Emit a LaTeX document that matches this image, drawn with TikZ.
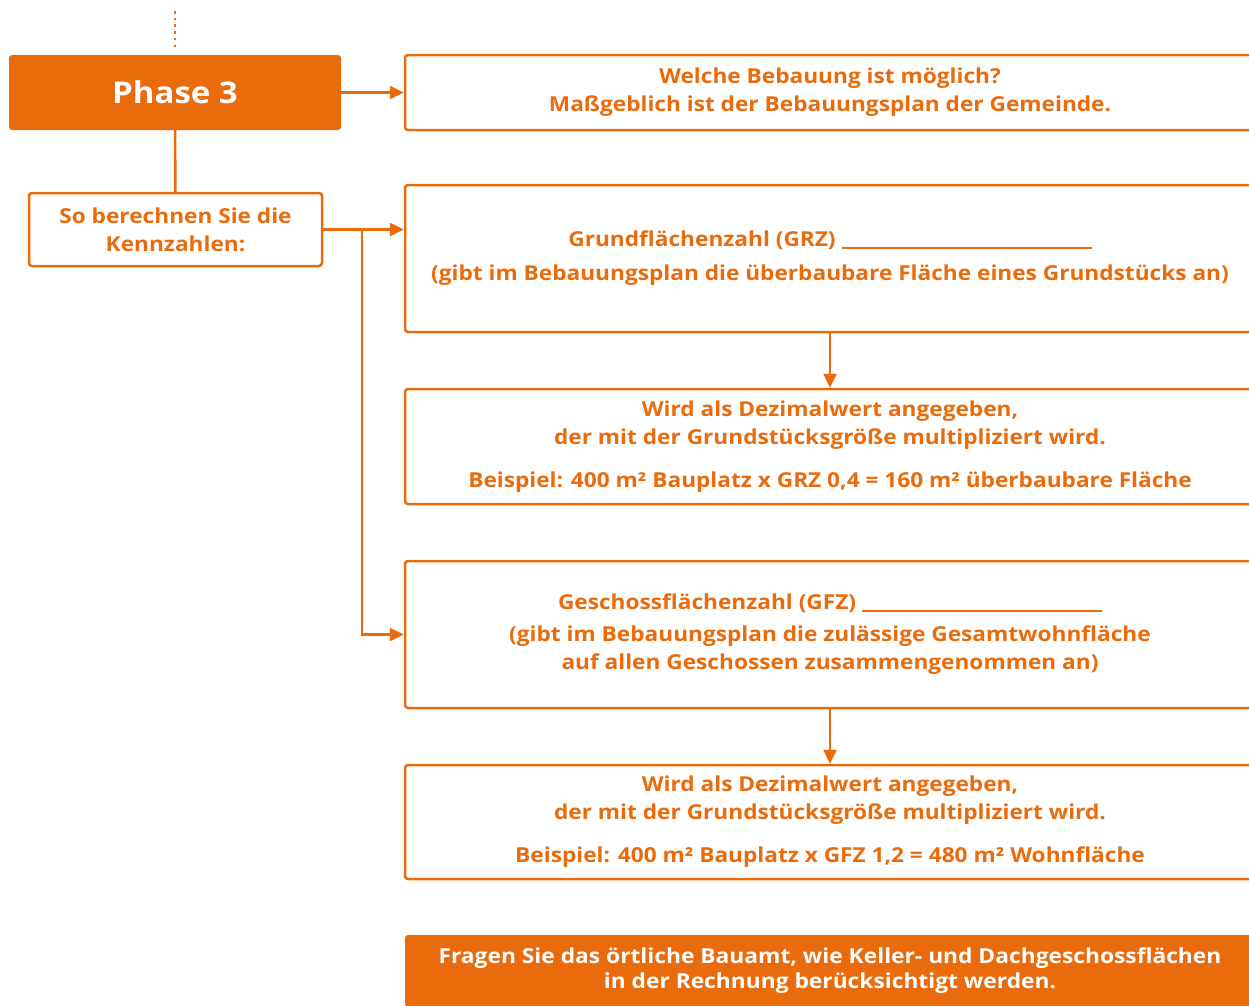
\documentclass[tikz,border=0pt]{standalone}
\usepackage{fontspec}
\setmainfont[FakeStretch=1.1]{Open Sans}
\usetikzlibrary{arrows.meta}
\definecolor{bauorange}{HTML}{EA6B0C}
\newcommand{\luecke}[1]{\rule[-2pt]{#1}{1.5pt}}
\begin{document}
\begin{tikzpicture}[x=1pt,y=-1pt,
  box/.style={draw=bauorange, line width=2.5pt, rounded corners=3pt, inner sep=0pt,
    minimum width=850pt, align=center, text=bauorange,
    font=\fontsize{20.6}{28}\selectfont\bfseries},
  fillbox/.style={fill=bauorange, rounded corners=3pt, inner sep=0pt, align=center,
    text=white},
  linie/.style={draw=bauorange, line width=2.5pt},
  pfeil/.style={linie, -{Triangle[length=14pt,width=13pt]}}]
  \clip (0,0) rectangle (1249,1005);
  % linke Spalte
  \node[fillbox, minimum width=332pt, minimum height=75pt,
        font=\fontsize{30}{34}\selectfont\bfseries] (phase) at (175,92.5) {Phase 3};
  \node[box, minimum width=293pt, minimum height=73pt] (kenn) at (175.5,229.5)
        {So berechnen Sie die\\Kennzahlen:};
  % rechte Spalte
  \node[box, minimum height=75pt] (frage) at (830,92.5)
        {Welche Bebauung ist möglich?\\Maßgeblich ist der Bebauungsplan der Gemeinde.};
  \node[box, minimum height=147pt] (grz) at (830,258.5)
        {Grundflächenzahl (GRZ) \luecke{250pt}\\[6pt]
         (gibt im Bebauungsplan die überbaubare Fläche eines Grundstücks an)};
  \node[box, minimum height=115pt] (grzinfo) at (830,446.5)
        {Wird als Dezimalwert angegeben,\\der mit der Grundstücksgröße multipliziert wird.\\[15pt]
         Beispiel: 400 m² Bauplatz x GRZ 0,4 = 160 m² überbaubare Fläche};
  \node[box, minimum height=147pt] (gfz) at (830,634.5)
        {Geschossflächenzahl (GFZ) \luecke{240pt}\\[4pt]
         (gibt im Bebauungsplan die zulässige Gesamtwohnfläche\\
         auf allen Geschossen zusammengenommen an)};
  \node[box, minimum height=114pt] (gfzinfo) at (830,822)
        {Wird als Dezimalwert angegeben,\\der mit der Grundstücksgröße multipliziert wird.\\[15pt]
         Beispiel: 400 m² Bauplatz x GFZ 1,2 = 480 m² Wohnfläche};
  \node[fillbox, minimum width=850pt, minimum height=72pt,
        font=\fontsize{20.7}{25}\selectfont\bfseries] (hinweis) at (830,971)
        {Fragen Sie das örtliche Bauamt, wie Keller- und Dachgeschossflächen\\
         in der Rechnung berücksichtigt werden.};
  % Verbindungen
  \coordinate (vorher) at (175,11);
  \coordinate (abzweig) at (362,229.5);
  \draw[linie, line width=2.5pt, dash pattern=on 2.5pt off 4.2pt]
        (vorher) -- (175,48);
  \draw[pfeil] (phase) -- (frage);
  \draw[linie] (phase) -- (kenn);
  \draw[pfeil] (kenn.east) -- (kenn.east -| grz.west);
  \draw[pfeil] (abzweig) |- (gfz.west);
  \draw[pfeil] (grz) -- (grzinfo);
  \draw[pfeil] (gfz) -- (gfzinfo);
\end{tikzpicture}
\end{document}
